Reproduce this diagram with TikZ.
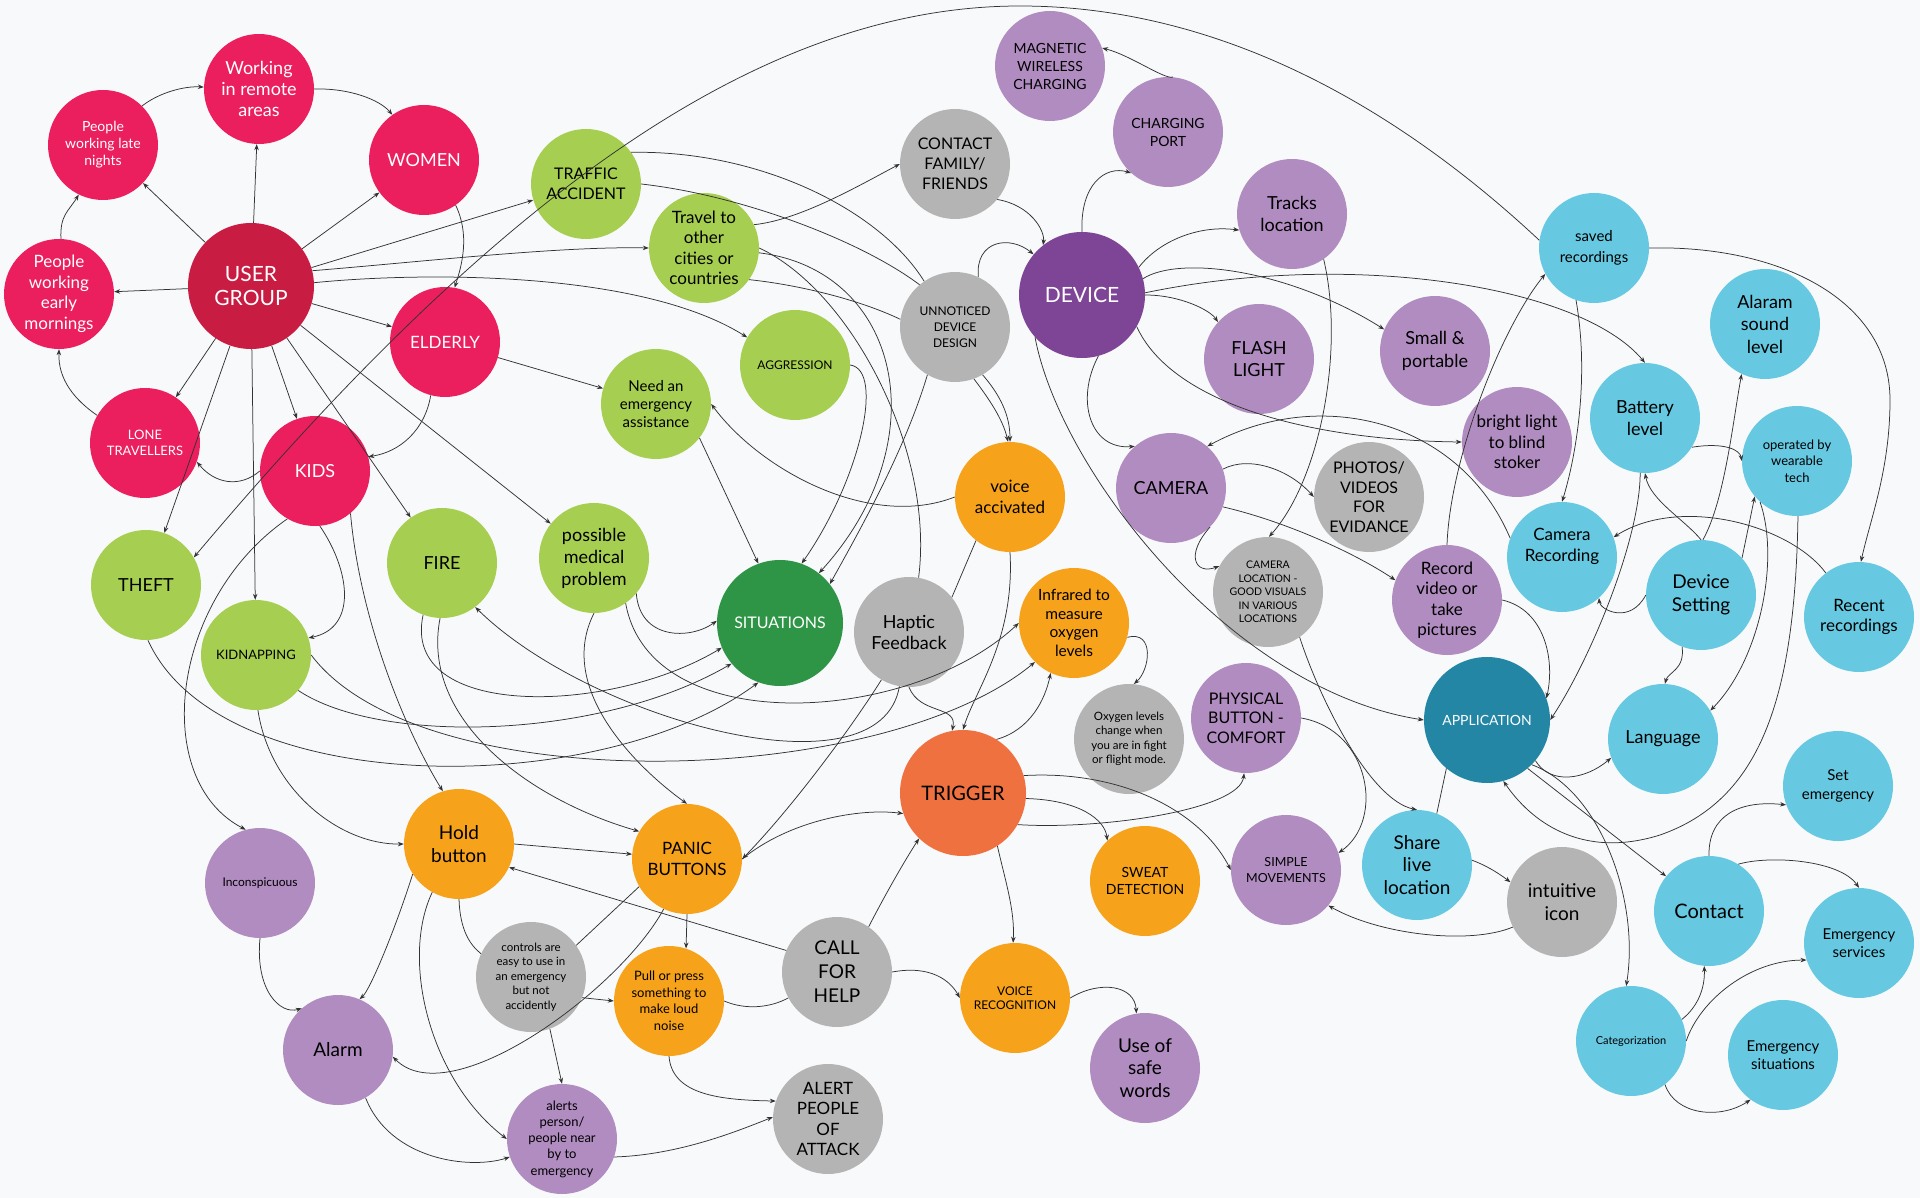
\documentclass[tikz,border=0pt]{standalone}
\usepackage{fontspec}
\setmainfont{Lato}
\usetikzlibrary{arrows.meta}
\definecolor{bgC}{HTML}{F8F9FB}
\definecolor{cPink}{HTML}{EB1E5E}
\definecolor{cUG}{HTML}{C91C42}
\definecolor{cGreen}{HTML}{A6CE50}
\definecolor{cDGreen}{HTML}{2E9546}
\definecolor{cGray}{HTML}{B3B4B3}
\definecolor{cPurple}{HTML}{B08CC0}
\definecolor{cDevice}{HTML}{7E4597}
\definecolor{cOrange}{HTML}{F7A21B}
\definecolor{cTrig}{HTML}{F07140}
\definecolor{cBlue}{HTML}{66C9E1}
\definecolor{cApp}{HTML}{2386A5}
\definecolor{lineC}{HTML}{333333}
\newcommand\setfs[2]{\fontsize{#1}{#2}\selectfont}
\tikzset{
  bub/.style={circle, minimum size=110pt, inner sep=0pt, align=center, text=black, font=\setfs{18}{21}},
  bigbub/.style={bub, minimum size=126pt, text=white},
  pinkn/.style={bub, fill=cPink, text=white},
  greenn/.style={bub, fill=cGreen},
  grayn/.style={bub, fill=cGray},
  purpn/.style={bub, fill=cPurple},
  orgn/.style={bub, fill=cOrange},
  bluen/.style={bub, fill=cBlue},
  ln/.style={draw=lineC, line width=0.75pt},
  e/.style={ln, -{Stealth[length=6pt,width=4.5pt]}},
}
\begin{document}
\begin{tikzpicture}[x=1pt,y=-1pt]
\fill[bgC] (0,0) rectangle (1920,1198);
\useasboundingbox (0,0) rectangle (1920,1198);
% ---------- nodes ----------
\node[pinkn] (wra) at (259,89) {Working\\in remote\\areas};
\node[pinkn, font=\setfs{14}{17}] (pln) at (103,145) {People\\working late\\nights};
\node[pinkn] (wom) at (424,160) {WOMEN};
\node[bigbub, fill=cUG, font=\setfs{21}{24}] (ug) at (251,286) {USER\\GROUP};
\node[pinkn, font=\setfs{17}{20.5}] (pem) at (59,294) {People\\working\\early\\mornings};
\node[pinkn, font=\setfs{17}{20}] (eld) at (445,342) {ELDERLY};
\node[pinkn, font=\setfs{13}{16}] (lt) at (145,443) {LONE\\TRAVELLERS};
\node[pinkn] (kids) at (315,471) {KIDS};

\node[greenn, font=\setfs{16}{20}] (ta) at (586,184) {TRAFFIC\\ACCIDENT};
\node[greenn, font=\setfs{17}{20.5}] (trv) at (704,248) {Travel to\\other\\cities or\\countries};
\node[greenn, font=\setfs{12}{15}] (agg) at (795,365) {AGGRESSION};
\node[greenn, font=\setfs{15}{18}] (nea) at (656,404) {Need an\\emergency\\assistance};
\node[greenn] (theft) at (146,585) {THEFT};
\node[greenn, font=\setfs{13}{16}] (kidn) at (256,655) {KIDNAPPING};
\node[greenn] (fire) at (442,563) {FIRE};
\node[greenn, font=\setfs{18}{22}] (pmp) at (594,558) {possible\\medical\\problem};
\node[bigbub, fill=cDGreen, font=\setfs{16}{19}] (sit) at (780,623) {SITUATIONS};

\node[grayn, font=\setfs{16}{20}] (cff) at (955,164) {CONTACT\\FAMILY/\\FRIENDS};
\node[grayn, font=\setfs{12}{16}] (unn) at (955,327) {UNNOTICED\\DEVICE\\DESIGN};
\node[grayn, font=\setfs{18}{21}] (hap) at (909,632) {Haptic\\Feedback};
\node[grayn, font=\setfs{11.5}{14.5}] (oxy) at (1129,739) {Oxygen levels\\change when\\you are in fight\\or flight mode.};
\node[grayn, font=\setfs{10.5}{13.5}] (camloc) at (1268,592) {CAMERA\\LOCATION -\\GOOD VISUALS\\IN VARIOUS\\LOCATIONS};
\node[grayn, font=\setfs{16}{19.5}] (photos) at (1369,497) {PHOTOS/\\VIDEOS\\FOR\\EVIDANCE};
\node[grayn, font=\setfs{11.5}{14.4}] (ctrl) at (531,977) {controls are\\easy to use in\\an emergency\\but not\\accidently};
\node[grayn, font=\setfs{19}{24}] (call) at (837,972) {CALL\\FOR\\HELP};
\node[grayn, font=\setfs{17}{20.5}] (alert) at (828,1119) {ALERT\\PEOPLE\\OF\\ATTACK};
\node[grayn, font=\setfs{19}{23.5}] (intu) at (1562,902) {intuitive\\icon};

\node[orgn, font=\setfs{17}{20.5}] (voice) at (1010,497) {voice\\accivated};
\node[orgn, font=\setfs{15.5}{18.5}] (inf) at (1074,623) {Infrared to\\measure\\oxygen\\levels};
\node[orgn, font=\setfs{19}{22.5}] (hold) at (459,844) {Hold\\button};
\node[orgn, font=\setfs{17}{20.5}] (panic) at (687,859) {PANIC\\BUTTONS};
\node[orgn, font=\setfs{13}{16.5}] (pull) at (669,1001) {Pull or press\\something to\\make loud\\noise};
\node[orgn, font=\setfs{12}{14}] (vrec) at (1015,998) {VOICE\\RECOGNITION};
\node[orgn, font=\setfs{14}{16.7}] (sweat) at (1145,881) {SWEAT\\DETECTION};
\node[bigbub, fill=cTrig, text=black, font=\setfs{20}{24}] (trig) at (963,793) {TRIGGER};

\node[purpn, font=\setfs{14}{18}] (mag) at (1050,66) {MAGNETIC\\WIRELESS\\CHARGING};
\node[purpn, font=\setfs{14}{18}] (port) at (1168,132) {CHARGING\\PORT};
\node[purpn, font=\setfs{18}{22}] (tracks) at (1292,214) {Tracks\\location};
\node[purpn, font=\setfs{18}{22}] (flash) at (1259,359) {FLASH\\LIGHT};
\node[purpn, font=\setfs{18}{23}] (small) at (1435,351) {Small \&\\portable};
\node[purpn, font=\setfs{17}{20.5}] (bright) at (1517,442) {bright light\\to blind\\stoker};
\node[purpn] (camera) at (1171,488) {CAMERA};
\node[purpn, font=\setfs{17}{20.5}] (record) at (1447,600) {Record\\video or\\take\\pictures};
\node[purpn, font=\setfs{16}{19.5}] (phys) at (1246,718) {PHYSICAL\\BUTTON -\\COMFORT};
\node[purpn, font=\setfs{12.5}{16}] (simple) at (1286,870) {SIMPLE\\MOVEMENTS};
\node[purpn, font=\setfs{19}{22.8}] (safe) at (1145,1068) {Use of\\safe\\words};
\node[purpn, font=\setfs{12}{15}] (incon) at (260,883) {Inconspicuous};
\node[purpn, font=\setfs{19}{22}] (alarm) at (338,1050) {Alarm};
\node[purpn, font=\setfs{13}{16.3}] (alerts) at (562,1139) {alerts\\person/\\people near\\by to\\emergency};
\node[bigbub, fill=cDevice, font=\setfs{21}{24}] (device) at (1082,295) {DEVICE};

\node[bluen, font=\setfs{15}{20.5}] (saved) at (1594,248) {saved\\recordings};
\node[bluen, font=\setfs{18}{22.5}] (alaram) at (1765,324) {Alaram\\sound\\level};
\node[bluen, font=\setfs{18}{22}] (battery) at (1645,418) {Battery\\level};
\node[bluen, font=\setfs{13}{16.7}] (wear) at (1797,461) {operated by\\wearable\\tech};
\node[bluen, font=\setfs{17}{20.7}] (camrec) at (1562,557) {Camera\\Recording\\[4pt]};
\node[bluen, font=\setfs{19}{23}] (devset) at (1701,595) {Device\\Setting};
\node[bluen, font=\setfs{17}{20.3}] (recent) at (1859,617) {Recent\\recordings};
\node[bluen] (lang) at (1663,739) {Language};
\node[bluen, font=\setfs{15}{18.4}] (setem) at (1838,786) {Set\\emergency};
\node[bluen, font=\setfs{19}{22.5}] (share) at (1417,865) {Share\\live\\location};
\node[bluen, font=\setfs{20}{24}] (contact) at (1709,911) {Contact};
\node[bluen, font=\setfs{15}{18.3}] (emserv) at (1859,943) {Emergency\\services};
\node[bluen, font=\setfs{11}{14}] (categ) at (1631,1041) {Categorization};
\node[bluen, font=\setfs{15}{18.3}] (emsit) at (1783,1055) {Emergency\\situations};
\node[bigbub, fill=cApp, font=\setfs{14}{17}] (app) at (1487,720) {APPLICATION};

% ---------- connectors ----------
% user group
\draw[e] (ug) -- (pln);
\draw[e] (ug) -- (wra);
\draw[e] (ug) -- (wom);
\draw[e] (ug) -- (ta);
\draw[e] (ug.14) .. controls (420,262) and (560,246) .. (trv.180);
\draw[e] (ug.3) .. controls (420,272) and (640,270) .. (agg.150);
\draw[e] (ug) -- (eld);
\draw[e] (ug) -- (pem);
\draw[e] (ug) -- (lt);
\draw[e] (ug) -- (theft);
\draw[e] (ug) -- (kidn);
\draw[e] (ug) -- (kids);
\draw[e] (ug) -- (fire);
\draw[e] (ug) -- (pmp);
% pink cluster
\draw[e] (wra.0) .. controls (350,88) and (380,100) .. (wom.125);
\draw[e] (pln.45) .. controls (160,92) and (185,86) .. (wra.178);
\draw[e] (pem.88) .. controls (60,215) and (68,212) .. (pln.-116);
\draw[e] (lt.150) .. controls (75,400) and (58,380) .. (pem.-90);
\draw[e] (wom.-55) .. controls (470,235) and (462,265) .. (eld.80);
\draw[e] (eld.-105) .. controls (425,430) and (400,452) .. (kids.15);
\draw[e] (eld) -- (nea);
\draw[e] (kids.180) .. controls (240,488) and (215,484) .. (lt.-20);
\draw[e] (kids.-85) .. controls (350,570) and (358,628) .. (kidn.18);
\draw[e] (kids.-120) .. controls (170,600) and (150,780) .. (incon.105);
\draw[e] (kids.-50) .. controls (360,620) and (405,730) .. (hold.107);
\draw[e] (saved.172) .. controls (1432,140) and (1250,6) .. (1020,6) .. controls (760,6) and (497,197) .. (theft.30);
% situations
\draw[e] (theft.-88) .. controls (220,800) and (600,800) .. (sit.-110);
\draw[e] (kidn.-40) .. controls (380,745) and (600,740) .. (sit.-140);
\draw[e] (fire.-110) .. controls (400,720) and (610,715) .. (sit.-157);
\draw[e] (pmp.-40) .. controls (640,640) and (690,640) .. (sit.178);
\draw[e] (nea.-38) -- (sit.110);
\draw[e] (agg.0) .. controls (885,370) and (860,480) .. (sit.70);
\draw[e] (trv.-5) .. controls (900,270) and (940,440) .. (sit.52);
\draw[e] (unn.-120) .. controls (905,450) and (860,530) .. (sit.38);
\draw[e] (kidn.0) .. controls (420,800) and (880,790) .. (inf.-135);
\draw[e] (pmp.-55) .. controls (650,740) and (910,725) .. (inf.180);
\draw[e] (fire.-92) .. controls (420,720) and (530,800) .. (panic.150);
\draw[e] (pmp.-90) .. controls (555,690) and (640,770) .. (panic.90);
\draw[e] (hap.-100) .. controls (880,800) and (590,720) .. (fire.-53);
% traffic / travel / unnoticed
\draw[ln] (ta.35) .. controls (760,150) and (880,210) .. (unn.124);
\draw[ln] (ta.0) .. controls (740,195) and (860,240) .. (unn.130);
\draw[ln] (trv.-35) .. controls (800,285) and (860,300) .. (unn.172);
\draw[e] (trv.25) .. controls (800,220) and (860,185) .. (cff.180);
\draw[ln] (trv.0) .. controls (850,290) and (935,450) .. (hap.80);
\draw[e] (unn.-70) .. controls (990,400) and (1003,420) .. (voice.92);
\draw[e] (unn.-60) .. controls (1000,395) and (1010,415) .. (voice.90);
\draw[e] (unn.65) .. controls (975,240) and (1010,235) .. (device.140);
\draw[e] (cff.-40) .. controls (1030,205) and (1045,230) .. (device.128);
% voice / haptic / trigger
\draw[e] (voice.180) .. controls (870,530) and (760,470) .. (nea.0);
\draw[e] (voice.-90) .. controls (1015,640) and (975,690) .. (trig.90);
\draw[ln] (voice.-128) -- (hap.39);
\draw[e] (hap.-90) .. controls (920,715) and (958,705) .. (trig.100);
\draw[e] (hap.-120) .. controls (850,730) and (790,810) .. (panic.0);
\draw[e] (panic.0) .. controls (790,820) and (860,808) .. (trig.199);
\draw[e] (trig.58) .. controls (1030,730) and (1045,700) .. (inf.-115);
\draw[e] (inf.-15) .. controls (1155,630) and (1150,670) .. (oxy.85);
\draw[e] (trig.-30) .. controls (1100,830) and (1240,810) .. (phys.-92);
\draw[e] (trig.16) .. controls (1120,770) and (1200,810) .. (simple.180);
\draw[e] (trig.-5) .. controls (1080,800) and (1105,820) .. (sweat.133);
\draw[e] (trig.-57) .. controls (1005,880) and (1015,910) .. (vrec.92);
\draw[e] (call.55) .. controls (885,895) and (905,860) .. (trig.-134);
\draw[e] (call.0) .. controls (930,965) and (950,980) .. (vrec.180);
\draw[e] (vrec.0) .. controls (1100,980) and (1135,985) .. (safe.99);
% bottom left
\draw[e] (panic.-90) -- (pull.72);
\draw[e] (pull.-90) .. controls (672,1095) and (720,1100) .. (alert.161);
\draw[e] (alerts.-19) .. controls (680,1155) and (740,1130) .. (alert.178);
\draw[e] (call.157) -- (hold.-25);
\draw[ln] (pull.0) .. controls (745,1010) and (770,1008) .. (call.-152);
\draw[e] (ctrl.-22) -- (pull.180);
\draw[e] (hold.0) -- (panic.175);
\draw[e] (panic.-115) .. controls (620,990) and (450,1115) .. (alarm.-7);
\draw[ln] (ctrl.35) -- (panic.-150);
\draw[ln] (hold.-90) .. controls (460,930) and (470,945) .. (ctrl.155);
\draw[e] (hold.-147) .. controls (395,930) and (370,990) .. (alarm.67);
\draw[e] (hold.-119) .. controls (400,960) and (430,1080) .. (alerts.180);
\draw[e] (ctrl.-70) -- (alerts.90);
\draw[e] (alarm.-60) .. controls (390,1160) and (470,1170) .. (alerts.-161);
\draw[e] (incon.-90) .. controls (255,990) and (280,1015) .. (alarm.131);
\draw[e] (kidn.-88) .. controls (270,790) and (340,845) .. (hold.180);
% device cluster
\draw[e] (device.90) .. controls (1080,185) and (1105,165) .. (port.228);
\draw[e] (port.85) .. controls (1165,80) and (1130,55) .. (mag.19);
\draw[e] (device.-75) .. controls (1075,400) and (1090,450) .. (camera.131);
\draw[e] (device.0) .. controls (1180,295) and (1210,310) .. (flash.138);
\draw[e] (device.15) .. controls (1180,255) and (1290,270) .. (small.157);
\draw[e] (device.26) .. controls (1160,240) and (1200,225) .. (tracks.-163);
\draw[e] (device.2) .. controls (1350,250) and (1580,285) .. (battery.90);
\draw[e] (device.-30) .. controls (1170,400) and (1300,440) .. (bright.180);
\draw[e] (tracks.-55) .. controls (1345,350) and (1320,480) .. (camloc.89);
\draw[e] (camera.-45) .. controls (1185,555) and (1195,575) .. (camloc.152);
\draw[e] (camera.20) .. controls (1250,455) and (1290,470) .. (photos.180);
\draw[e] (camera.-20) .. controls (1280,520) and (1350,550) .. (record.159);
\draw[e] (camrec.160) .. controls (1460,420) and (1320,385) .. (camera.49);
\draw[e] (record.90) .. controls (1450,460) and (1500,330) .. (saved.208);
\draw[e] (saved.-109) .. controls (1590,380) and (1575,460) .. (camrec.90);
\draw[e] (record.0) .. controls (1545,610) and (1555,660) .. (app.20);
\draw[e] (device.-138) .. controls (1060,470) and (1230,690) .. (app.180);
\draw[e] (camloc.-55) .. controls (1320,700) and (1370,800) .. (share.90);
\draw[e] (phys.0) .. controls (1370,730) and (1385,820) .. (simple.18);
\draw[ln] (app.-130) -- (share.69);
\draw[e] (share.5) .. controls (1485,865) and (1497,872) .. (intu.159);
\draw[e] (intu.-153) .. controls (1470,945) and (1380,935) .. (simple.-40);
% application cluster
\draw[e] (battery.-32) .. controls (1725,442) and (1740,450) .. (wear.180);
\draw[e] (devset.90) .. controls (1685,520) and (1650,500) .. (battery.-90);
\draw[e] (battery.-95) .. controls (1640,540) and (1590,660) .. (app.0);
\draw[e] (devset.180) .. controls (1630,625) and (1600,610) .. (camrec.-48);
\draw[e] (devset.88) .. controls (1725,500) and (1733,420) .. (alaram.-115);
\draw[e] (devset.42) -- (wear.-140);
\draw[e] (wear.-132) .. controls (1780,560) and (1760,660) .. (lang.31);
\draw[e] (wear.-89) .. controls (1795,700) and (1760,800) .. (1660,835) .. controls (1580,860) and (1530,820) .. (app.-75);
\draw[e] (app.-50) -- (contact.141);
\draw[e] (app.-45) .. controls (1600,790) and (1640,900) .. (categ.95);
\draw[e] (app.-40) .. controls (1550,785) and (1585,780) .. (lang.-160);
\draw[e] (devset.-110) .. controls (1685,670) and (1668,672) .. (lang.88);
\draw[e] (recent.127) .. controls (1790,525) and (1680,495) .. (camrec.21);
\draw[e] (saved.0) .. controls (1780,245) and (1890,300) .. (1890,400) .. controls (1890,470) and (1870,520) .. (recent.88);
\draw[e] (contact.90) .. controls (1708,815) and (1740,800) .. (setem.-160);
\draw[e] (contact.58) .. controls (1770,855) and (1840,860) .. (emserv.90);
\draw[e] (categ.23) .. controls (1700,1005) and (1705,985) .. (contact.-95);
\draw[e] (categ.0) .. controls (1700,1000) and (1750,960) .. (emserv.-162);
\draw[e] (categ.-52) .. controls (1675,1115) and (1720,1120) .. (emsit.-126);
\end{tikzpicture}
\end{document}
